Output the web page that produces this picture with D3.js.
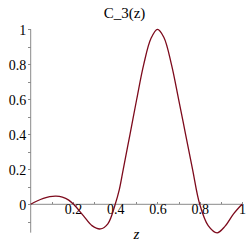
<!DOCTYPE html>
<html>
<head>
    <meta charset="utf-8">
    <title>C_3(z)</title>
    <style type="text/css">
        body { margin: 0; background: #fff; }
        .axis line { stroke: #8a8a8a; shape-rendering: crispEdges; }
    </style>
</head>
<body>
    <script src="https://cdn.jsdelivr.net/npm/d3@7"></script>
    <script>
        // values
        var zVals = [0, 0.03, 0.06, 0.09, 0.12, 0.15, 0.18, 0.203, 0.25, 0.29, 0.33, 0.365, 0.4,
                     0.419, 0.438, 0.47, 0.501, 0.535, 0.57, 0.6, 0.63, 0.666, 0.7, 0.733, 0.766, 0.8,
                     0.84, 0.882, 0.92, 0.96, 1];
        var cVals = [0, 0.019, 0.034, 0.044, 0.047, 0.041, 0.024, 0, -0.066, -0.122, -0.141, -0.112, 0,
                     0.082, 0.2, 0.4, 0.596, 0.8, 0.95, 1, 0.955, 0.8, 0.6, 0.4, 0.2, 0,
                     -0.122, -0.163, -0.125, -0.055, 0];
        var xTickLabels = [0.2, 0.4, 0.6, 0.8, 1];
        var xMinor = [0.1, 0.3, 0.5, 0.7, 0.9];
        var yTickLabels = [0, 0.2, 0.4, 0.6, 0.8, 1];
        var yMinor = [-0.1, 0.1, 0.3, 0.5, 0.7, 0.9];

        var serif = "'Liberation Serif', 'Times New Roman', 'DejaVu Serif', serif";
        var width = 249, height = 246;
        var x = d3.scaleLinear().domain([0, 1]).range([30.7, 242]);
        var y = d3.scaleLinear().domain([0, 1]).range([204.3, 29.3]);

        var svg = d3.select("body").append("svg")
            .attr("width", width)
            .attr("height", height);

        // axis lines
        svg.append("line")
            .attr("x1", x(0)).attr("x2", x(1))
            .attr("y1", y(0)).attr("y2", y(0))
            .style("stroke", "#8a8a8a");
        svg.append("line")
            .attr("x1", x(0)).attr("x2", x(0))
            .attr("y1", y(1)).attr("y2", y(-0.162))
            .style("stroke", "#8a8a8a");

        // x axis through y = 0
        var xAxis = svg.append("g")
            .attr("class", "axis")
            .attr("transform", "translate(0," + y(0) + ")")
            .call(d3.axisBottom(x).tickValues(xTickLabels).tickSize(0).tickPadding(0)
                .tickFormat(d3.format("")));
        xAxis.attr("font-family", serif).attr("font-size", 14);
        xAxis.select(".domain").remove();
        xAxis.selectAll("text").attr("y", 9.5).attr("dy", 0)
            .style("font-family", serif).style("fill", "#000");
        svg.append("g")
            .attr("class", "axis")
            .attr("transform", "translate(0," + y(0) + ")")
            .call(d3.axisTop(x).tickValues(xMinor.concat(xTickLabels)).tickSize(2.5).tickFormat(""))
            .select(".domain").remove();

        // y axis
        var yAxis = svg.append("g")
            .attr("class", "axis")
            .attr("transform", "translate(" + x(0) + ",0)")
            .call(d3.axisLeft(y).tickValues(yTickLabels).tickSize(2.5).tickPadding(2)
                .tickFormat(d3.format("")));
        yAxis.attr("font-family", serif).attr("font-size", 14);
        yAxis.select(".domain").remove();
        yAxis.selectAll("text").attr("dy", "0.35em")
            .style("font-family", serif).style("fill", "#000");
        svg.append("g")
            .attr("class", "axis")
            .attr("transform", "translate(" + x(0) + ",0)")
            .call(d3.axisLeft(y).tickValues(yMinor).tickSize(2.5).tickFormat(""))
            .select(".domain").remove();

        // curve
        var pts = zVals.map(function (z, i) { return [z, cVals[i]]; });
        var line = d3.line()
            .x(function (d) { return x(d[0]); })
            .y(function (d) { return y(d[1]); })
            .curve(d3.curveCatmullRom.alpha(0.5));
        svg.append("path")
            .datum(pts)
            .attr("d", line)
            .style("fill", "none")
            .style("stroke", "#7d0a1c")
            .style("stroke-width", 1.3);

        // title and axis label
        svg.append("text")
            .attr("x", 124.5).attr("y", 18)
            .attr("text-anchor", "middle")
            .style("font-family", serif)
            .style("font-size", "15px")
            .text("C_3(z)");
        svg.append("text")
            .attr("x", (x(0) + x(1)) / 2).attr("y", 238.5)
            .attr("text-anchor", "middle")
            .style("font-family", serif)
            .style("font-size", "15px")
            .style("font-style", "italic")
            .text("z");
    </script>
</body>
</html>
